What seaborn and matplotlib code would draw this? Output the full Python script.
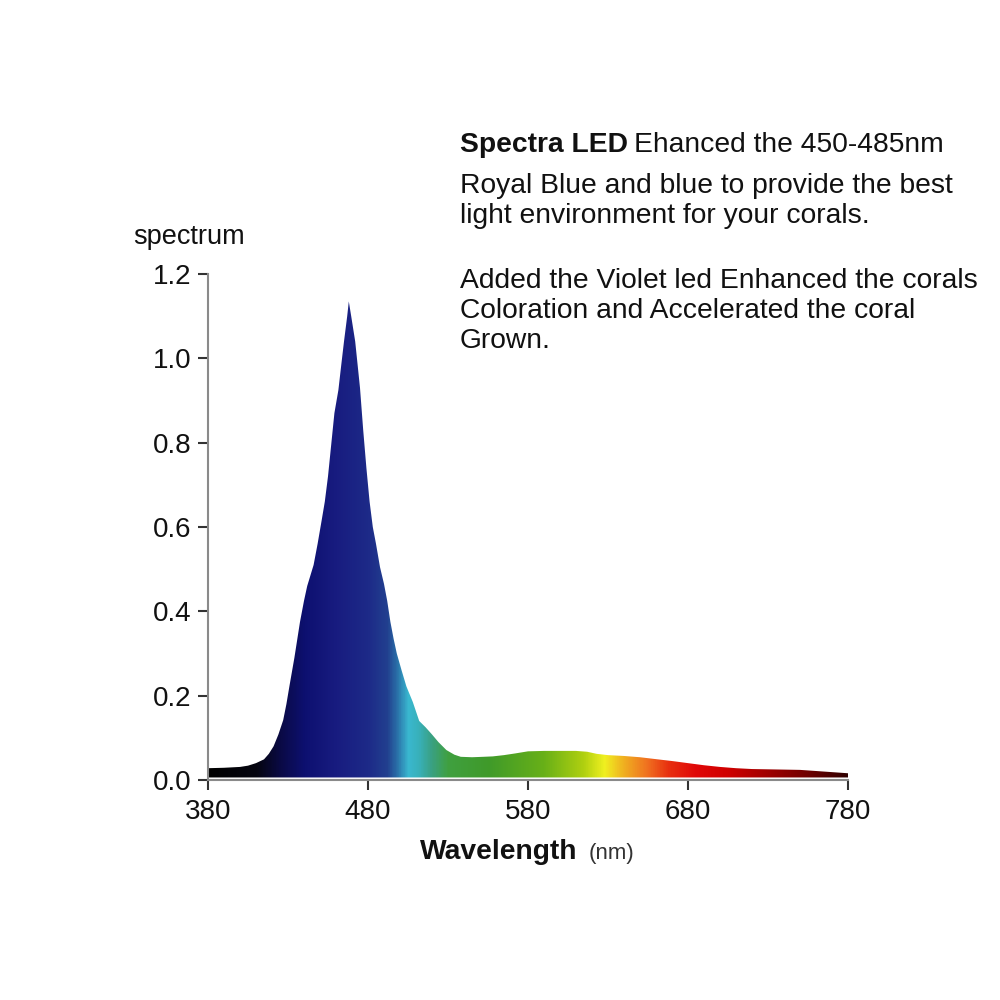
import numpy as np
import matplotlib
matplotlib.use("Agg")
import matplotlib.pyplot as plt
from matplotlib.colors import LinearSegmentedColormap
import seaborn as sns
import pandas as pd

# ---- data ----
wavelength = [380, 390, 400, 405, 410, 415, 418, 421, 424, 427, 429, 431, 434, 437.5,
              440, 442, 444, 446, 448.5, 451, 453, 455, 457, 459, 461.5, 463, 465,
              467, 468, 469.5, 472, 475, 477, 479, 481, 483, 485, 487.5, 490, 492,
              494, 496, 498, 501, 504, 508, 512, 516, 520, 524, 529, 534, 538, 545,
              552, 558, 565, 572, 580, 590, 600, 610, 617, 623, 630, 640, 650, 661,
              670, 680, 690, 700, 710, 720, 735, 750, 765, 780]
intensity = [0.028, 0.029, 0.031, 0.034, 0.040, 0.049, 0.062, 0.080, 0.108, 0.142,
             0.18, 0.225, 0.29, 0.375, 0.425, 0.46, 0.485, 0.51, 0.56, 0.615, 0.66,
             0.72, 0.795, 0.87, 0.925, 0.975, 1.04, 1.10, 1.135, 1.10, 1.04, 0.93,
             0.83, 0.74, 0.66, 0.60, 0.56, 0.505, 0.465, 0.425, 0.375, 0.335, 0.30,
             0.26, 0.222, 0.185, 0.14, 0.125, 0.108, 0.09, 0.071, 0.06, 0.055, 0.054,
             0.055, 0.056, 0.059, 0.063, 0.068, 0.069, 0.069, 0.069, 0.067, 0.062,
             0.059, 0.057, 0.054, 0.049, 0.045, 0.040, 0.035, 0.031, 0.028, 0.026,
             0.025, 0.024, 0.020, 0.016]

x_ticks = [380, 480, 580, 680, 780]
y_ticks = [0.0, 0.2, 0.4, 0.6, 0.8, 1.0, 1.2]

# spectrum colour stops (wavelength, colour)
stop_wl = [380, 410, 425, 440, 460, 480, 492, 498, 505, 512, 520, 530, 555, 590,
           615, 628, 640, 655, 668, 685, 705, 730, 755, 780]
stop_col = ["#000000", "#050510", "#0a0a45", "#0d1070", "#181c80", "#1d2a88",
            "#22408f", "#2a70a8", "#3ab8d0", "#38b0b8", "#3aa080", "#40a040",
            "#3f9a2a", "#68b018", "#b0d010", "#f0f020", "#f0b020", "#f07020",
            "#e83010", "#e00808", "#d00000", "#a00000", "#700000", "#300000"]

text_lines = [
    "Royal Blue and blue to provide the best",
    "light environment for your corals.",
    "Added the Violet led Enhanced the corals",
    "Coloration and Accelerated the coral",
    "Grown.",
]

# ---- plot ----
sns.set_theme(style="white")
plt.rcParams["font.family"] = ["Liberation Sans", "DejaVu Sans"]

fig = plt.figure(figsize=(10, 10), dpi=100)
ax = fig.add_axes([0.208, 0.22, 0.64, 0.506])

df = pd.DataFrame({"wavelength": wavelength, "intensity": intensity})
sns.lineplot(data=df, x="wavelength", y="intensity", ax=ax, linewidth=0)

lo, hi = stop_wl[0], stop_wl[-1]
cmap = LinearSegmentedColormap.from_list(
    "spec", [((w - lo) / (hi - lo), c) for w, c in zip(stop_wl, stop_col)], N=512)
grad = np.linspace(0, 1, 800).reshape(1, -1)
poly = ax.fill_between(wavelength, 0.006, intensity, color="none", linewidth=0)
img = ax.imshow(grad, cmap=cmap, extent=[lo, hi, 0, 1.2], aspect="auto",
                origin="lower", zorder=2)
img.set_clip_path(poly.get_paths()[0], transform=ax.transData)

ax.set_xlim(380, 780)
ax.set_ylim(0, 1.2)
ax.set_xticks(x_ticks)
ax.set_yticks(y_ticks)
ax.set_xticklabels([str(v) for v in x_ticks])
ax.set_yticklabels([f"{v:.1f}" for v in y_ticks])
ax.tick_params(axis="both", direction="out", length=7, width=1.5, colors="#333333",
               labelsize=20, labelcolor="#111111", left=True, bottom=True)
ax.tick_params(axis="x", pad=7)
ax.tick_params(axis="y", pad=5)
for side in ["top", "right"]:
    ax.spines[side].set_visible(False)
for side in ["left", "bottom"]:
    ax.spines[side].set_color("#8a8a8a")
    ax.spines[side].set_linewidth(1.5)
ax.set_xlabel("")
ax.set_ylabel("")
ax.grid(False)

# axis titles
fig.text(0.189, 0.763, "spectrum", fontsize=19.5, ha="center", va="center", color="#111111")
fig.text(0.4985, 0.148, "Wavelength", fontsize=20.3, fontweight="bold", ha="center",
         va="center", color="#111111")
fig.text(0.612, 0.146, "(nm)", fontsize=16, ha="center", va="center", color="#333333")

# description text
fs = 20.3
t1 = fig.text(0.460, 1 - 0.152, "Spectra LED", fontsize=fs, fontweight="bold",
              ha="left", va="baseline", color="#111111")
fig.canvas.draw()
bb = t1.get_window_extent(renderer=fig.canvas.get_renderer())
x_after = bb.x1 / fig.bbox.width
fig.text(x_after + 0.006, 1 - 0.152, "Ehanced the 450-485nm", fontsize=fs,
         ha="left", va="baseline", color="#111111")
baselines = [0.193, 0.223, 0.288, 0.318, 0.348]
for line, b in zip(text_lines, baselines):
    fig.text(0.460, 1 - b, line, fontsize=fs, ha="left", va="baseline", color="#111111")

fig.savefig("out.png", dpi=100, facecolor="white")
